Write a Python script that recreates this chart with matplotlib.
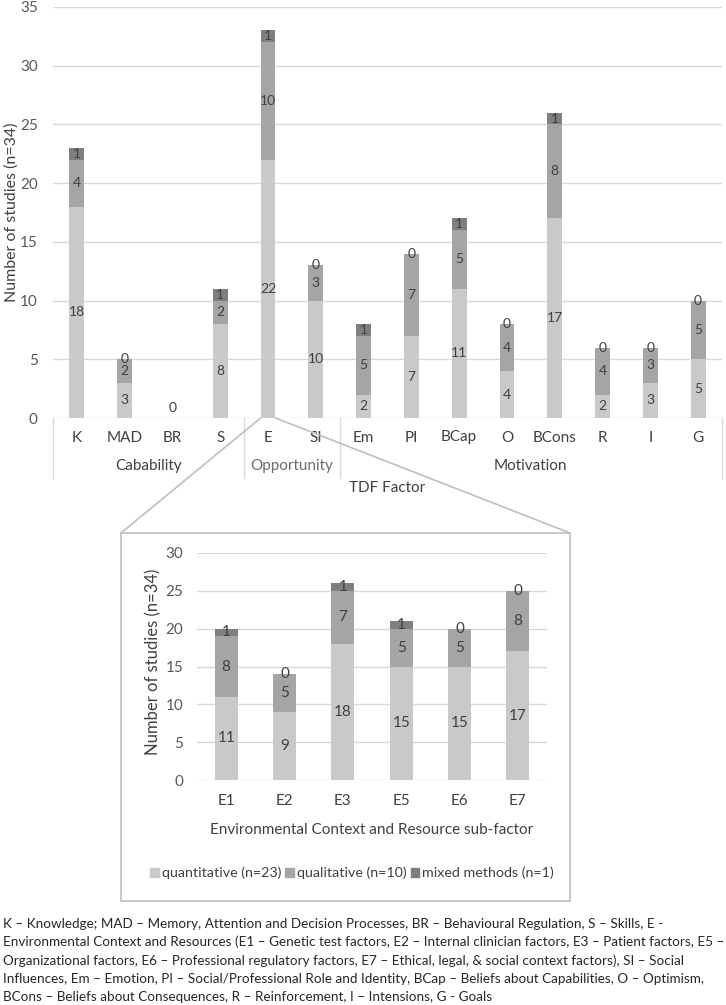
import numpy as np
import matplotlib
matplotlib.use("Agg")
import matplotlib.pyplot as plt
from matplotlib.patches import Rectangle, ConnectionPatch

plt.rcParams["font.family"] = ["Lato", "DejaVu Sans"]

# ---- data -------------------------------------------------------------
factors = ["K", "MAD", "BR", "S", "E", "SI", "Em", "PI", "BCap", "O",
           "BCons", "R", "I", "G"]
quantitative = [18, 3, 0, 8, 22, 10, 2, 7, 11, 4, 17, 2, 3, 5]
qualitative = [4, 2, 0, 2, 10, 3, 5, 7, 5, 4, 8, 4, 3, 5]
mixed = [1, 0, 0, 1, 1, 0, 1, 0, 1, 0, 1, 0, 0, 0]

groups = ["Cabability", "Opportunity", "Motivation"]
group_sizes = [4, 2, 8]

sub_factors = ["E1", "E2", "E3", "E5", "E6", "E7"]
sub_quant = [11, 9, 18, 15, 15, 17]
sub_qual = [8, 5, 7, 5, 5, 8]
sub_mixed = [1, 0, 1, 1, 0, 0]

series_names = ["quantitative (n=23)", "qualitative (n=10)", "mixed methods (n=1)"]

# ---- style ------------------------------------------------------------
COLORS = ["#c9c9c9", "#a5a5a5", "#7f7f7f"]
GRID = "#d9d9d9"
BOX = "#bfbfbf"
TXT = "#404040"
TICK = "#595959"

W, H = 726, 1005
fig = plt.figure(figsize=(W / 100, H / 100), dpi=100)


def px_box(x0, y0, x1, y1):
    """pixel box (top-left origin) -> figure fraction rect"""
    return [x0 / W, 1 - y1 / H, (x1 - x0) / W, (y1 - y0) / H]


def stacked(ax, cats, series, width, fs):
    x = np.arange(len(cats))
    bottom = np.zeros(len(cats))
    totals = np.sum(series, axis=0)
    for vals, col in zip(series, COLORS):
        vals = np.array(vals, dtype=float)
        ax.bar(x, vals, width, bottom=bottom, color=col, zorder=3)
        for i, v in enumerate(vals):
            if totals[i] == 0:
                continue
            ax.text(x[i], bottom[i] + v / 2, f"{int(v)}", ha="center",
                    va="center", fontsize=fs, color=TXT, zorder=4)
        bottom += vals
    # bars with nothing at all get a single label just above the axis
    for i, t in enumerate(totals):
        if t == 0:
            ax.annotate("0", (x[i], 0), xytext=(0, 7), textcoords="offset points",
                        ha="center", va="center", fontsize=fs, color=TXT)
    ax.set_xlim(-0.5, len(cats) - 0.5)
    for s in ax.spines.values():
        s.set_visible(False)
    ax.yaxis.grid(True, color=GRID, lw=1, zorder=0)
    ax.set_axisbelow(True)
    ax.tick_params(axis="both", length=0, colors=TICK)
    return x


# ---- top chart --------------------------------------------------------
ax = fig.add_axes(px_box(53, 7, 722, 418))
x = stacked(ax, factors, [quantitative, qualitative, mixed], 0.31, 10)
ax.set_ylim(0, 35)
ax.set_yticks(np.arange(0, 36, 5))
ax.tick_params(axis="y", labelsize=11, pad=11)
ax.set_xticks(x)
ax.set_xticklabels(factors, fontsize=11, color=TXT)
ax.tick_params(axis="x", pad=9)
ax.set_ylabel("Number of studies (n=34)", fontsize=11.5, color=TXT)
ax.yaxis.label.set_va("center")
ax.yaxis.set_label_coords(-0.062, 0.5)

# multi-level category table under the axis
y_low = -0.146
edges = np.concatenate([[0], np.cumsum(group_sizes)]) - 0.5
for e in edges:
    ax.plot([e, e], [0, y_low], color=GRID, lw=1,
            transform=ax.get_xaxis_transform(), clip_on=False)
for g, a, b in zip(groups, edges[:-1], edges[1:]):
    ax.text((a + b) / 2, -0.117, g, ha="center", va="center", fontsize=11,
            color=TXT if g != "Opportunity" else "#6b6b6b",
            transform=ax.get_xaxis_transform())
ax.text(0.5, -0.17, "TDF Factor", ha="center", va="center", fontsize=11,
        color=TXT, transform=ax.transAxes)

# ---- zoom box ---------------------------------------------------------
bx0, by0, bx1, by1 = 121, 533, 570, 901
fig.patches.append(Rectangle((bx0 / W, 1 - by1 / H), (bx1 - bx0) / W,
                             (by1 - by0) / H, transform=fig.transFigure,
                             facecolor="white", edgecolor=BOX, lw=1.2,
                             zorder=-5))
e_idx = factors.index("E")
for dx, cx in [(-0.155, bx0), (0.155, bx1)]:
    con = ConnectionPatch(xyA=(e_idx + dx, 0), coordsA="data", axesA=ax,
                          xyB=(cx / W, 1 - by0 / H), coordsB=fig.transFigure,
                          color=BOX, lw=1.2)
    fig.add_artist(con)

# ---- inner chart ------------------------------------------------------
ax2 = fig.add_axes(px_box(197, 553, 547, 780))
ax2.set_zorder(3)
ax2.patch.set_alpha(0)
x2 = stacked(ax2, sub_factors, [sub_quant, sub_qual, sub_mixed], 0.39, 11)
ax2.set_ylim(0, 30)
ax2.set_yticks(np.arange(0, 31, 5))
ax2.tick_params(axis="y", labelsize=11, pad=10)
ax2.set_xticks(x2)
ax2.set_xticklabels(sub_factors, fontsize=11, color=TXT)
ax2.tick_params(axis="x", pad=10)
ax2.set_ylabel("Number of studies (n=34)", fontsize=12, color=TXT)
ax2.yaxis.label.set_va("center")
ax2.yaxis.set_label_coords(-0.126, 0.52)
ax2.set_xlabel("Environmental Context and Resource sub-factor", fontsize=11,
               color=TXT)
ax2.xaxis.set_label_coords(0.5, -0.19)

handles = [Rectangle((0, 0), 1, 1, color=c) for c in COLORS]
leg = ax2.legend(handles, series_names, loc="center", ncol=3,
                 bbox_to_anchor=(0.443, -0.41), frameon=False, fontsize=10.3,
                 handlelength=0.6, handleheight=0.6, handletextpad=0.2,
                 columnspacing=0.3, borderaxespad=0)
for t in leg.get_texts():
    t.set_color(TXT)

# ---- footnote ---------------------------------------------------------
footnote = [
    "K – Knowledge; MAD – Memory, Attention and Decision Processes, BR – Behavioural Regulation, S – Skills, E -",
    "Environmental Context and Resources (E1 – Genetic test factors, E2 – Internal clinician factors, E3 – Patient factors, E5 –",
    "Organizational factors, E6 – Professional regulatory factors, E7 – Ethical, legal, & social context factors), SI – Social",
    "Influences, Em – Emotion, PI – Social/Professional Role and Identity, BCap – Beliefs about Capabilities, O – Optimism,",
    "BCons – Beliefs about Consequences, R – Reinforcement, I – Intensions, G - Goals",
]
for k, line in enumerate(footnote):
    fig.text(3 / W, 1 - (924 + 18.2 * k) / H, line, ha="left", va="center",
             fontsize=9.7, color="#262626")

fig.savefig("out.png", dpi=100, facecolor="white")
